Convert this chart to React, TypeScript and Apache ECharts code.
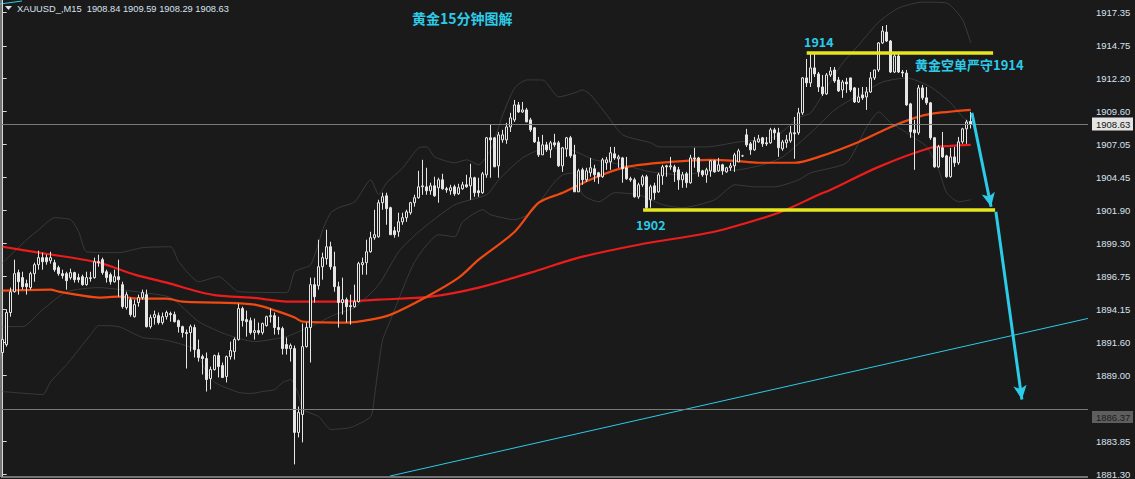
import React, { useEffect, useRef } from "react";
import * as echarts from "echarts";

// [open, close, low, high]
const candles: number[][] = [
  [1890.79, 1891.80, 1890.47, 1891.96], [1891.41, 1893.91, 1891.25, 1894.14], [1893.91, 1895.54, 1893.59, 1895.86], [1895.54, 1896.95, 1895.47, 1898.04],
  [1897.03, 1896.32, 1895.31, 1897.26], [1896.64, 1895.93, 1895.70, 1897.10], [1896.17, 1895.93, 1895.31, 1896.48], [1895.86, 1896.95, 1895.70, 1897.10],
  [1896.95, 1897.65, 1896.32, 1897.81], [1897.65, 1898.20, 1897.26, 1898.74], [1898.20, 1897.88, 1897.26, 1898.59], [1898.20, 1897.88, 1897.65, 1898.43],
  [1897.96, 1898.20, 1897.73, 1898.66], [1897.81, 1897.26, 1897.10, 1898.04], [1897.42, 1896.95, 1896.79, 1897.58], [1896.95, 1896.79, 1896.56, 1897.26],
  [1896.95, 1896.40, 1895.70, 1897.10], [1896.64, 1897.03, 1896.48, 1897.34], [1897.03, 1896.48, 1896.25, 1897.10], [1896.64, 1896.48, 1896.25, 1896.95],
  [1896.71, 1896.09, 1896.01, 1896.87], [1896.09, 1896.64, 1896.01, 1897.10], [1896.56, 1896.64, 1896.32, 1897.10], [1896.64, 1897.88, 1896.56, 1898.20],
  [1897.88, 1897.81, 1897.49, 1898.43], [1898.04, 1897.03, 1896.87, 1898.20], [1897.10, 1896.64, 1896.25, 1897.26], [1896.87, 1896.32, 1896.09, 1897.03],
  [1896.32, 1896.71, 1896.25, 1897.26], [1896.71, 1896.48, 1895.15, 1898.04], [1896.09, 1894.37, 1894.22, 1896.32], [1894.30, 1895.31, 1894.14, 1895.54],
  [1894.92, 1893.75, 1893.59, 1895.08], [1893.59, 1894.53, 1893.52, 1894.92], [1894.69, 1895.08, 1894.37, 1895.31], [1895.08, 1895.47, 1894.92, 1895.70],
  [1895.31, 1892.81, 1892.74, 1895.70], [1892.81, 1893.52, 1892.66, 1893.75], [1893.52, 1893.75, 1892.97, 1894.06], [1893.67, 1893.13, 1892.97, 1893.91],
  [1893.13, 1893.59, 1892.97, 1893.91], [1893.59, 1893.91, 1893.36, 1894.06], [1893.83, 1893.75, 1893.20, 1893.98], [1893.75, 1893.20, 1893.13, 1893.98],
  [1893.28, 1892.81, 1892.35, 1893.36], [1892.81, 1892.35, 1891.96, 1892.89], [1892.35, 1892.27, 1889.54, 1892.58], [1892.35, 1892.81, 1890.86, 1892.97],
  [1892.74, 1891.02, 1890.40, 1892.97], [1891.02, 1890.40, 1890.08, 1891.80], [1890.47, 1890.32, 1889.07, 1890.63], [1890.32, 1888.68, 1887.74, 1890.79],
  [1888.76, 1889.46, 1887.90, 1889.69], [1889.46, 1890.55, 1889.38, 1890.63], [1890.55, 1889.69, 1888.84, 1890.79], [1889.77, 1888.84, 1888.84, 1890.01],
  [1888.92, 1890.47, 1888.45, 1890.55], [1890.47, 1890.94, 1890.24, 1891.64], [1890.86, 1891.80, 1890.24, 1891.96], [1891.80, 1894.22, 1891.72, 1894.61],
  [1894.22, 1893.28, 1892.81, 1894.37], [1893.36, 1893.20, 1892.03, 1894.06], [1893.28, 1892.35, 1892.19, 1893.52], [1892.35, 1892.50, 1891.80, 1893.44],
  [1892.50, 1892.35, 1892.19, 1893.13], [1892.35, 1893.05, 1892.19, 1893.13], [1892.89, 1893.59, 1892.81, 1893.67], [1893.59, 1893.67, 1893.13, 1894.22],
  [1893.67, 1892.74, 1892.19, 1893.91], [1892.74, 1892.58, 1892.19, 1893.59], [1892.66, 1891.10, 1890.63, 1892.81], [1891.41, 1891.10, 1890.63, 1891.96],
  [1891.10, 1891.33, 1890.08, 1891.49], [1891.10, 1884.55, 1882.05, 1891.33], [1884.55, 1886.11, 1884.16, 1886.57], [1885.95, 1891.25, 1883.77, 1893.05],
  [1891.25, 1892.74, 1891.18, 1893.13], [1892.74, 1896.09, 1890.01, 1896.64], [1896.09, 1895.15, 1894.69, 1896.64], [1896.01, 1897.49, 1895.70, 1899.60],
  [1897.49, 1898.20, 1896.48, 1898.59], [1898.12, 1899.05, 1897.65, 1900.38], [1899.05, 1897.49, 1897.26, 1899.44], [1897.49, 1895.93, 1895.54, 1898.66],
  [1895.93, 1894.69, 1892.74, 1896.32], [1894.69, 1894.92, 1893.75, 1896.64], [1894.92, 1894.37, 1893.13, 1895.08], [1894.45, 1894.37, 1892.97, 1895.31],
  [1894.37, 1894.76, 1894.30, 1896.09], [1894.76, 1897.73, 1894.69, 1897.88], [1897.65, 1897.81, 1896.87, 1898.20], [1897.81, 1898.66, 1896.87, 1899.60],
  [1898.66, 1899.76, 1898.59, 1900.22], [1899.76, 1899.99, 1899.60, 1901.94], [1899.83, 1902.49, 1899.76, 1902.72], [1902.49, 1902.96, 1901.94, 1903.27],
  [1903.03, 1902.02, 1900.77, 1903.27], [1902.10, 1899.99, 1899.99, 1902.18], [1900.30, 1899.99, 1899.76, 1900.61], [1900.22, 1901.00, 1899.83, 1901.71],
  [1901.00, 1901.32, 1900.77, 1901.71], [1901.32, 1901.78, 1901.00, 1901.94], [1901.71, 1902.49, 1901.55, 1902.56], [1902.49, 1902.88, 1902.18, 1903.11],
  [1902.88, 1903.73, 1902.80, 1904.98], [1903.73, 1903.81, 1903.11, 1905.84], [1903.73, 1903.42, 1903.11, 1905.22], [1903.42, 1903.81, 1903.11, 1904.05],
  [1903.81, 1903.03, 1902.95, 1904.52], [1903.66, 1904.28, 1902.49, 1904.44], [1904.28, 1903.58, 1903.50, 1904.75], [1903.58, 1903.50, 1903.27, 1903.73],
  [1903.42, 1903.66, 1903.11, 1903.89], [1903.73, 1903.19, 1903.03, 1903.89], [1903.19, 1903.66, 1903.11, 1903.97], [1903.58, 1903.89, 1903.50, 1904.12],
  [1903.89, 1903.73, 1903.66, 1904.67], [1903.81, 1904.44, 1902.72, 1905.53], [1904.44, 1903.27, 1902.95, 1904.52], [1903.42, 1903.27, 1902.95, 1904.44],
  [1903.27, 1904.75, 1903.19, 1904.90], [1904.67, 1907.56, 1904.44, 1907.63], [1907.56, 1907.40, 1904.44, 1908.57], [1907.56, 1905.29, 1905.29, 1907.63],
  [1905.37, 1907.79, 1904.44, 1908.02], [1907.40, 1907.79, 1907.17, 1908.18], [1907.40, 1908.41, 1907.09, 1908.73], [1908.41, 1909.12, 1908.02, 1909.51],
  [1908.96, 1910.13, 1908.80, 1910.52], [1910.13, 1909.58, 1909.51, 1910.36], [1909.58, 1909.74, 1909.51, 1910.36], [1909.74, 1908.80, 1908.80, 1909.90],
  [1908.96, 1908.18, 1908.02, 1909.12], [1908.34, 1907.24, 1907.17, 1908.41], [1907.24, 1906.23, 1906.07, 1907.63], [1906.23, 1907.01, 1906.23, 1907.79],
  [1907.01, 1906.62, 1906.46, 1907.24], [1906.62, 1907.17, 1905.99, 1907.32], [1907.17, 1907.01, 1906.85, 1907.87], [1907.17, 1905.37, 1905.29, 1907.32],
  [1905.37, 1906.78, 1904.90, 1906.85], [1906.70, 1907.56, 1906.07, 1907.63], [1907.56, 1906.15, 1905.99, 1907.71], [1906.23, 1903.34, 1903.34, 1907.01],
  [1903.34, 1904.98, 1903.34, 1905.14], [1905.06, 1904.28, 1903.89, 1905.22], [1904.28, 1904.98, 1904.12, 1905.22], [1904.83, 1905.22, 1904.52, 1905.99],
  [1905.14, 1904.67, 1904.12, 1905.45], [1904.83, 1904.52, 1903.97, 1904.90], [1904.52, 1905.84, 1904.44, 1905.99], [1905.61, 1905.84, 1905.06, 1906.07],
  [1905.68, 1906.39, 1905.06, 1906.85], [1906.31, 1905.99, 1905.84, 1906.85], [1905.92, 1906.07, 1905.22, 1906.23], [1905.99, 1905.14, 1904.05, 1906.07],
  [1905.22, 1904.36, 1904.28, 1906.07], [1904.36, 1904.28, 1904.12, 1904.52], [1904.28, 1902.95, 1902.88, 1904.44], [1902.95, 1903.89, 1902.80, 1904.05],
  [1903.89, 1904.52, 1903.73, 1904.67], [1904.52, 1902.10, 1901.86, 1904.67], [1902.72, 1903.73, 1902.10, 1903.89], [1903.81, 1903.27, 1902.72, 1904.05],
  [1903.34, 1904.67, 1903.27, 1904.83], [1904.59, 1905.29, 1903.89, 1905.45], [1905.37, 1905.29, 1904.52, 1905.45], [1905.29, 1905.37, 1905.06, 1906.07],
  [1905.29, 1904.90, 1904.12, 1905.45], [1905.06, 1904.28, 1903.50, 1905.29], [1904.28, 1904.67, 1903.66, 1904.90], [1904.75, 1904.05, 1903.66, 1904.90],
  [1904.05, 1905.99, 1903.97, 1906.23], [1905.99, 1905.92, 1905.22, 1906.78], [1905.99, 1904.90, 1904.52, 1906.07], [1904.98, 1904.67, 1904.52, 1905.06],
  [1904.67, 1905.06, 1904.05, 1905.22], [1904.98, 1905.76, 1904.52, 1905.84], [1905.76, 1904.90, 1904.83, 1905.84], [1904.98, 1905.45, 1904.90, 1905.99],
  [1905.45, 1904.98, 1904.67, 1905.53], [1904.90, 1905.22, 1904.83, 1905.29], [1905.22, 1905.37, 1904.98, 1905.61], [1905.37, 1906.23, 1904.90, 1906.39],
  [1905.68, 1906.54, 1905.68, 1906.70], [1906.15, 1906.15, 1906.07, 1906.23], [1907.79, 1907.01, 1906.85, 1908.26], [1907.09, 1906.62, 1906.23, 1907.24],
  [1906.62, 1907.32, 1906.54, 1907.63], [1907.24, 1907.48, 1907.17, 1907.79], [1907.56, 1907.09, 1906.85, 1907.63], [1907.17, 1907.09, 1906.93, 1907.63],
  [1907.17, 1908.18, 1907.09, 1908.34], [1908.18, 1907.95, 1907.40, 1908.34], [1907.95, 1906.78, 1906.07, 1908.34], [1906.70, 1907.24, 1906.54, 1907.40],
  [1907.17, 1907.40, 1906.78, 1907.79], [1907.32, 1907.95, 1907.17, 1908.49], [1907.95, 1907.87, 1905.92, 1909.19], [1907.95, 1909.51, 1907.79, 1909.90],
  [1909.51, 1912.24, 1909.35, 1912.31], [1912.24, 1911.85, 1911.53, 1913.72], [1911.85, 1913.02, 1911.53, 1914.26], [1913.02, 1912.55, 1912.31, 1914.19],
  [1912.55, 1911.53, 1911.14, 1912.70], [1911.53, 1910.99, 1910.83, 1912.47], [1910.99, 1912.47, 1910.91, 1912.62], [1912.47, 1912.78, 1912.31, 1913.09],
  [1912.86, 1912.00, 1911.85, 1913.09], [1912.08, 1911.22, 1911.14, 1912.31], [1911.30, 1911.92, 1910.68, 1912.08], [1911.92, 1911.77, 1911.07, 1912.24],
  [1912.24, 1911.30, 1911.14, 1912.24], [1911.46, 1910.36, 1910.29, 1911.53], [1910.36, 1910.75, 1910.29, 1911.46], [1910.91, 1910.68, 1910.52, 1911.53],
  [1910.75, 1911.14, 1909.74, 1911.53], [1911.14, 1912.24, 1911.07, 1912.70], [1912.24, 1912.86, 1912.08, 1912.86], [1912.86, 1914.97, 1912.70, 1915.04],
  [1914.97, 1915.90, 1914.89, 1916.29], [1915.82, 1915.12, 1915.04, 1916.37], [1915.12, 1912.70, 1912.62, 1915.20], [1912.70, 1913.95, 1912.62, 1914.19],
  [1913.95, 1912.70, 1912.62, 1914.19], [1912.70, 1912.62, 1912.31, 1912.86], [1912.62, 1910.13, 1910.05, 1912.86], [1910.21, 1908.02, 1907.56, 1910.29],
  [1908.18, 1907.95, 1905.06, 1908.96], [1907.95, 1911.46, 1907.79, 1911.69], [1911.46, 1910.68, 1910.52, 1911.69], [1910.68, 1910.29, 1910.13, 1911.53],
  [1910.29, 1907.56, 1907.40, 1910.36], [1907.56, 1905.29, 1905.22, 1907.63], [1905.29, 1906.85, 1905.22, 1907.01], [1906.78, 1906.07, 1905.99, 1908.02],
  [1906.15, 1904.52, 1904.44, 1906.23], [1904.52, 1906.07, 1904.44, 1906.78], [1906.07, 1905.61, 1905.29, 1906.85], [1905.61, 1907.24, 1905.45, 1907.63],
  [1907.24, 1908.26, 1907.09, 1908.34], [1908.26, 1908.80, 1907.09, 1908.96], [1908.84, 1908.63, 1908.29, 1909.59],
];

// moving averages: [candle index, price]
const slowMA: number[][] = [
  [0, 1899.05], [9, 1898.59], [24, 1897.81], [33, 1896.87], [41, 1896.25], [49, 1895.54], [54, 1895.23], [62, 1895.08],
  [72, 1894.76], [83, 1894.76], [94, 1894.92], [107, 1895.15], [119, 1895.86], [132, 1897.03], [144, 1898.20], [159, 1899.21],
  [174, 1899.99], [180, 1900.38], [194, 1901.71], [204, 1903.11], [207, 1903.50], [219, 1905.29], [232, 1906.78], [237, 1906.93], [242, 1907.01],
];
const fastMA: number[][] = [
  [0, 1895.62], [12, 1895.70], [14, 1895.54], [20, 1895.23], [24, 1895.08], [29, 1895.15], [34, 1895.00], [41, 1895.00],
  [45, 1894.76], [54, 1894.69], [63, 1894.53], [69, 1893.98], [73, 1893.52], [75, 1893.20], [86, 1893.13], [92, 1893.36],
  [97, 1893.75], [106, 1895.15], [114, 1896.64], [119, 1898.04], [128, 1900.22], [134, 1902.49], [140, 1903.27], [148, 1904.44],
  [156, 1905.29], [167, 1905.68], [177, 1905.84], [183, 1905.76], [189, 1905.61], [198, 1905.61], [204, 1906.07], [214, 1907.24],
  [222, 1908.41], [228, 1909.12], [232, 1909.43], [242, 1909.74],
];

// Bollinger bands: [candle index, price]
const bbUpper: number[][] = [
  [0, 1897.81], [6, 1899.60], [9, 1900.38], [13, 1901.32], [17, 1901.16], [19, 1900.22], [21, 1898.66], [29, 1898.59],
  [35, 1898.98], [42, 1899.05], [44, 1897.88], [49, 1896.32], [54, 1896.71], [59, 1895.54], [71, 1895.47], [73, 1897.10],
  [77, 1897.65], [80, 1900.38], [82, 1901.71], [84, 1902.10], [88, 1902.56], [92, 1904.28], [94, 1903.11], [96, 1904.05],
  [100, 1905.22], [104, 1906.78], [106, 1906.85], [108, 1906.07], [113, 1905.61], [116, 1905.84], [119, 1905.45], [122, 1906.62],
  [125, 1909.35], [128, 1911.46], [131, 1912.08], [135, 1912.08], [139, 1910.75], [143, 1911.07], [145, 1911.30], [147, 1910.91],
  [151, 1909.35], [155, 1907.79], [162, 1907.17], [164, 1906.85], [176, 1906.85], [184, 1907.24], [193, 1907.63], [199, 1909.12],
  [202, 1909.51], [206, 1911.46], [210, 1913.41], [214, 1914.81], [219, 1916.60], [224, 1917.70], [230, 1918.16], [236, 1918.09],
  [240, 1916.76], [242, 1914.97],
];
const bbMiddle: number[][] = [
  [0, 1892.81], [5, 1892.81], [10, 1894.14], [16, 1895.54], [24, 1895.86], [35, 1895.47], [42, 1895.08], [49, 1893.20],
  [56, 1892.19], [63, 1891.64], [71, 1892.03], [74, 1892.42], [78, 1892.97], [83, 1893.75], [88, 1894.30], [94, 1896.09],
  [99, 1898.66], [104, 1900.22], [113, 1902.33], [121, 1903.11], [124, 1904.28], [130, 1906.00], [136, 1906.78], [142, 1906.62],
  [148, 1905.84], [155, 1905.45], [162, 1904.90], [170, 1904.67], [176, 1904.90], [184, 1905.06], [190, 1905.45], [195, 1906.07],
  [202, 1907.95], [208, 1909.74], [214, 1910.91], [220, 1911.92], [226, 1912.24], [232, 1911.53], [237, 1910.29], [240, 1909.19],
  [242, 1908.73],
];
const bbLower: number[][] = [
  [0, 1887.74], [10, 1887.51], [12, 1888.52], [16, 1889.85], [19, 1891.02], [22, 1892.19], [24, 1892.89], [29, 1892.81],
  [35, 1891.96], [40, 1891.80], [45, 1891.41], [48, 1891.02], [51, 1889.23], [53, 1888.45], [59, 1887.67], [62, 1887.59],
  [65, 1887.74], [68, 1887.90], [70, 1888.45], [72, 1888.68], [74, 1887.51], [75, 1886.34], [79, 1885.79], [82, 1884.78],
  [87, 1884.94], [92, 1885.79], [93, 1887.51], [94, 1889.85], [95, 1891.80], [97, 1893.36], [103, 1897.88], [109, 1899.99],
  [113, 1899.83], [115, 1901.00], [120, 1901.94], [122, 1901.55], [128, 1901.16], [132, 1901.71], [138, 1904.12], [140, 1904.67],
  [143, 1904.83], [145, 1903.11], [149, 1902.56], [153, 1903.27], [159, 1903.11], [165, 1902.33], [170, 1902.10], [178, 1902.72],
  [183, 1903.89], [188, 1903.73], [193, 1903.73], [199, 1904.28], [202, 1904.83], [211, 1905.61], [216, 1908.41], [219, 1909.58],
  [222, 1908.73], [226, 1907.95], [231, 1906.85], [234, 1905.06], [236, 1903.27], [239, 1902.56], [242, 1902.72],
];

const yTicks = [1917.35, 1914.75, 1912.2, 1909.6, 1907.05, 1904.45, 1901.9, 1899.3, 1896.75, 1894.15, 1891.6, 1889.0, 1883.85, 1881.3];
const bidPrice = 1908.63;
const hLinePrice = 1886.37;
const resistance = 1914.24;
const support = 1901.94;
const resistanceSpan = [201, 247.6];
const supportSpan = [160.1, 248.1];
const trendLine: number[][] = [[96.8, 1881.14], [271.3, 1893.45]];
const arrowA: number[][] = [[242.3, 1909.51], [247.1, 1902.17]];
const arrowB: number[][] = [[248.3, 1901.78], [254.8, 1887.12]];

const CYAN = "#2ccbe8";
const BG = "#1a1a1a";
const FG = "#e6e6e6";

export default function App() {
  const ref = useRef<HTMLDivElement>(null);
  useEffect(() => {
    if (!ref.current) return;
    const chart = echarts.init(ref.current, undefined, { renderer: "svg" });
    const bandLine = (data: number[][]) => ({
      type: "line",
      data,
      showSymbol: false,
      smooth: 0.2,
      silent: true,
      lineStyle: { color: "#3a3a3a", width: 1 },
      z: 1,
    });
    const option: any = {
      animation: false,
      backgroundColor: BG,
      grid: { left: 1, right: 47, top: 0, bottom: 2, containLabel: false },
      xAxis: { type: "value", min: -0.425, max: 271.325, show: false },
      yAxis: {
        type: "value",
        position: "right",
        min: 1881.14,
        max: 1918.324,
        splitLine: { show: false },
        axisLine: { show: true, lineStyle: { color: "#d8d8d8", width: 1 } },
        axisTick: { show: true, inside: false, length: 4, customValues: yTicks, lineStyle: { color: "#d8d8d8" } },
        axisLabel: {
          show: true,
          customValues: yTicks,
          formatter: (v: number) => v.toFixed(2),
          color: "#d8e2f0",
          fontSize: 9.5,
          fontFamily: "'Liberation Sans', Arial, sans-serif",
          margin: 8,
        },
      },
      series: [
        bandLine(bbUpper),
        bandLine(bbMiddle),
        bandLine(bbLower),
        {
          type: "line",
          data: slowMA,
          showSymbol: false,
          smooth: 0.3,
          lineStyle: { color: "#ec1c1c", width: 2.2 },
          z: 2,
        },
        {
          type: "line",
          data: fastMA,
          showSymbol: false,
          smooth: 0.3,
          lineStyle: { color: "#f04a12", width: 2.2 },
          z: 2,
        },
        {
          type: "candlestick",
          data: candles.map((c, i) => [i, c[0], c[1], c[2], c[3]]),
          encode: { x: 0, y: [1, 2, 3, 4] },
          barWidth: 3,
          itemStyle: { color: BG, color0: FG, borderColor: FG, borderColor0: FG, borderWidth: 1 },
          z: 3,
        },
        {
          type: "line",
          data: trendLine,
          showSymbol: false,
          lineStyle: { color: CYAN, width: 1 },
          z: 4,
        },
        {
          type: "line",
          data: [],
          z: 5,
          markLine: {
            silent: true,
            animation: false,
            label: { show: false },
            symbol: ["none", "none"],
            data: [
              [{ coord: [-0.425, bidPrice] }, { coord: [271.325, bidPrice] }],
              [{ coord: [-0.425, hLinePrice] }, { coord: [271.325, hLinePrice] }],
            ],
            lineStyle: { color: "#7a7a7a", width: 1, type: "solid" },
          },
        },
        {
          type: "line",
          data: [],
          z: 6,
          markLine: {
            silent: true,
            animation: false,
            label: { show: false },
            symbol: ["none", "none"],
            data: [
              [{ coord: [resistanceSpan[0], resistance] }, { coord: [resistanceSpan[1], resistance] }],
              [{ coord: [supportSpan[0], support] }, { coord: [supportSpan[1], support] }],
            ],
            lineStyle: { color: "#e6e61e", width: 3.5, type: "solid" },
          },
        },
        {
          type: "line",
          data: [],
          z: 7,
          markLine: {
            silent: true,
            animation: false,
            label: { show: false },
            symbol: ["none", "arrow"],
            symbolSize: [10, 14],
            data: [
              [{ coord: arrowA[0] }, { coord: arrowA[1] }],
              [{ coord: arrowB[0] }, { coord: arrowB[1] }],
            ],
            lineStyle: { color: CYAN, width: 3, type: "solid" },
          },
        },
      ],
    };
    chart.setOption(option);

    const yBid = chart.convertToPixel({ yAxisIndex: 0 }, bidPrice) as number;
    const yH = chart.convertToPixel({ yAxisIndex: 0 }, hLinePrice) as number;
    const cjk = "'Noto Sans CJK SC', 'Noto Sans', sans-serif";
    chart.setOption({
      graphic: [
        { type: "line", shape: { x1: 1, y1: 0, x2: 1, y2: 477 }, style: { stroke: "#cfcfcf", lineWidth: 1 }, silent: true },
        { type: "line", shape: { x1: 1, y1: 477, x2: 1088, y2: 477 }, style: { stroke: "#cfcfcf", lineWidth: 1 }, silent: true },
        { type: "line", shape: { x1: 0, y1: 4, x2: 22, y2: 1 }, style: { stroke: CYAN, lineWidth: 1 }, silent: true },
        { type: "polygon", shape: { points: [[5, 6], [12, 6], [8.5, 10]] }, style: { fill: "#d8e2f0" }, silent: true },
        {
          type: "text", x: 17, y: 9, silent: true,
          style: { text: "XAUUSD_,M15  1908.84 1909.59 1908.29 1908.63", fill: "#d8e2f0", font: "9.3px 'Liberation Sans', Arial, sans-serif", verticalAlign: "middle", textVerticalAlign: "middle" },
        },
        {
          type: "text", x: 412, y: 18, silent: true,
          style: { text: "黄金15分钟图解", fill: CYAN, font: `bold 14px ${cjk}`, verticalAlign: "middle", textVerticalAlign: "middle" },
        },
        {
          type: "text", x: 804, y: 41, silent: true,
          style: { text: "1914", fill: CYAN, font: `bold 12.5px ${cjk}`, verticalAlign: "middle", textVerticalAlign: "middle" },
        },
        {
          type: "text", x: 915, y: 64, silent: true,
          style: { text: "黄金空单严守1914", fill: CYAN, font: `bold 13px ${cjk}`, verticalAlign: "middle", textVerticalAlign: "middle" },
        },
        {
          type: "text", x: 636, y: 224.5, silent: true,
          style: { text: "1902", fill: CYAN, font: `bold 12.5px ${cjk}`, verticalAlign: "middle", textVerticalAlign: "middle" },
        },
        { type: "rect", shape: { x: 1092, y: yBid - 6.5, width: 41, height: 13 }, style: { fill: "#e4e4e4" }, silent: true },
        {
          type: "text", x: 1096, y: yBid, silent: true,
          style: { text: bidPrice.toFixed(2), fill: "#111111", font: "9.5px 'Liberation Sans', Arial, sans-serif", verticalAlign: "middle", textVerticalAlign: "middle" },
        },
        { type: "rect", shape: { x: 1092, y: yH + 8 - 6, width: 41, height: 12 }, style: { fill: "#5e5e5e" }, silent: true },
        {
          type: "text", x: 1096, y: yH + 8, silent: true,
          style: { text: hLinePrice.toFixed(2), fill: "#1c1c1c", font: "9.5px 'Liberation Sans', Arial, sans-serif", verticalAlign: "middle", textVerticalAlign: "middle" },
        },
      ],
    });
    return () => chart.dispose();
  }, []);
  return <div ref={ref} style={{ position: "fixed", left: 0, top: 0, width: 1135, height: 479 }} />;
}
